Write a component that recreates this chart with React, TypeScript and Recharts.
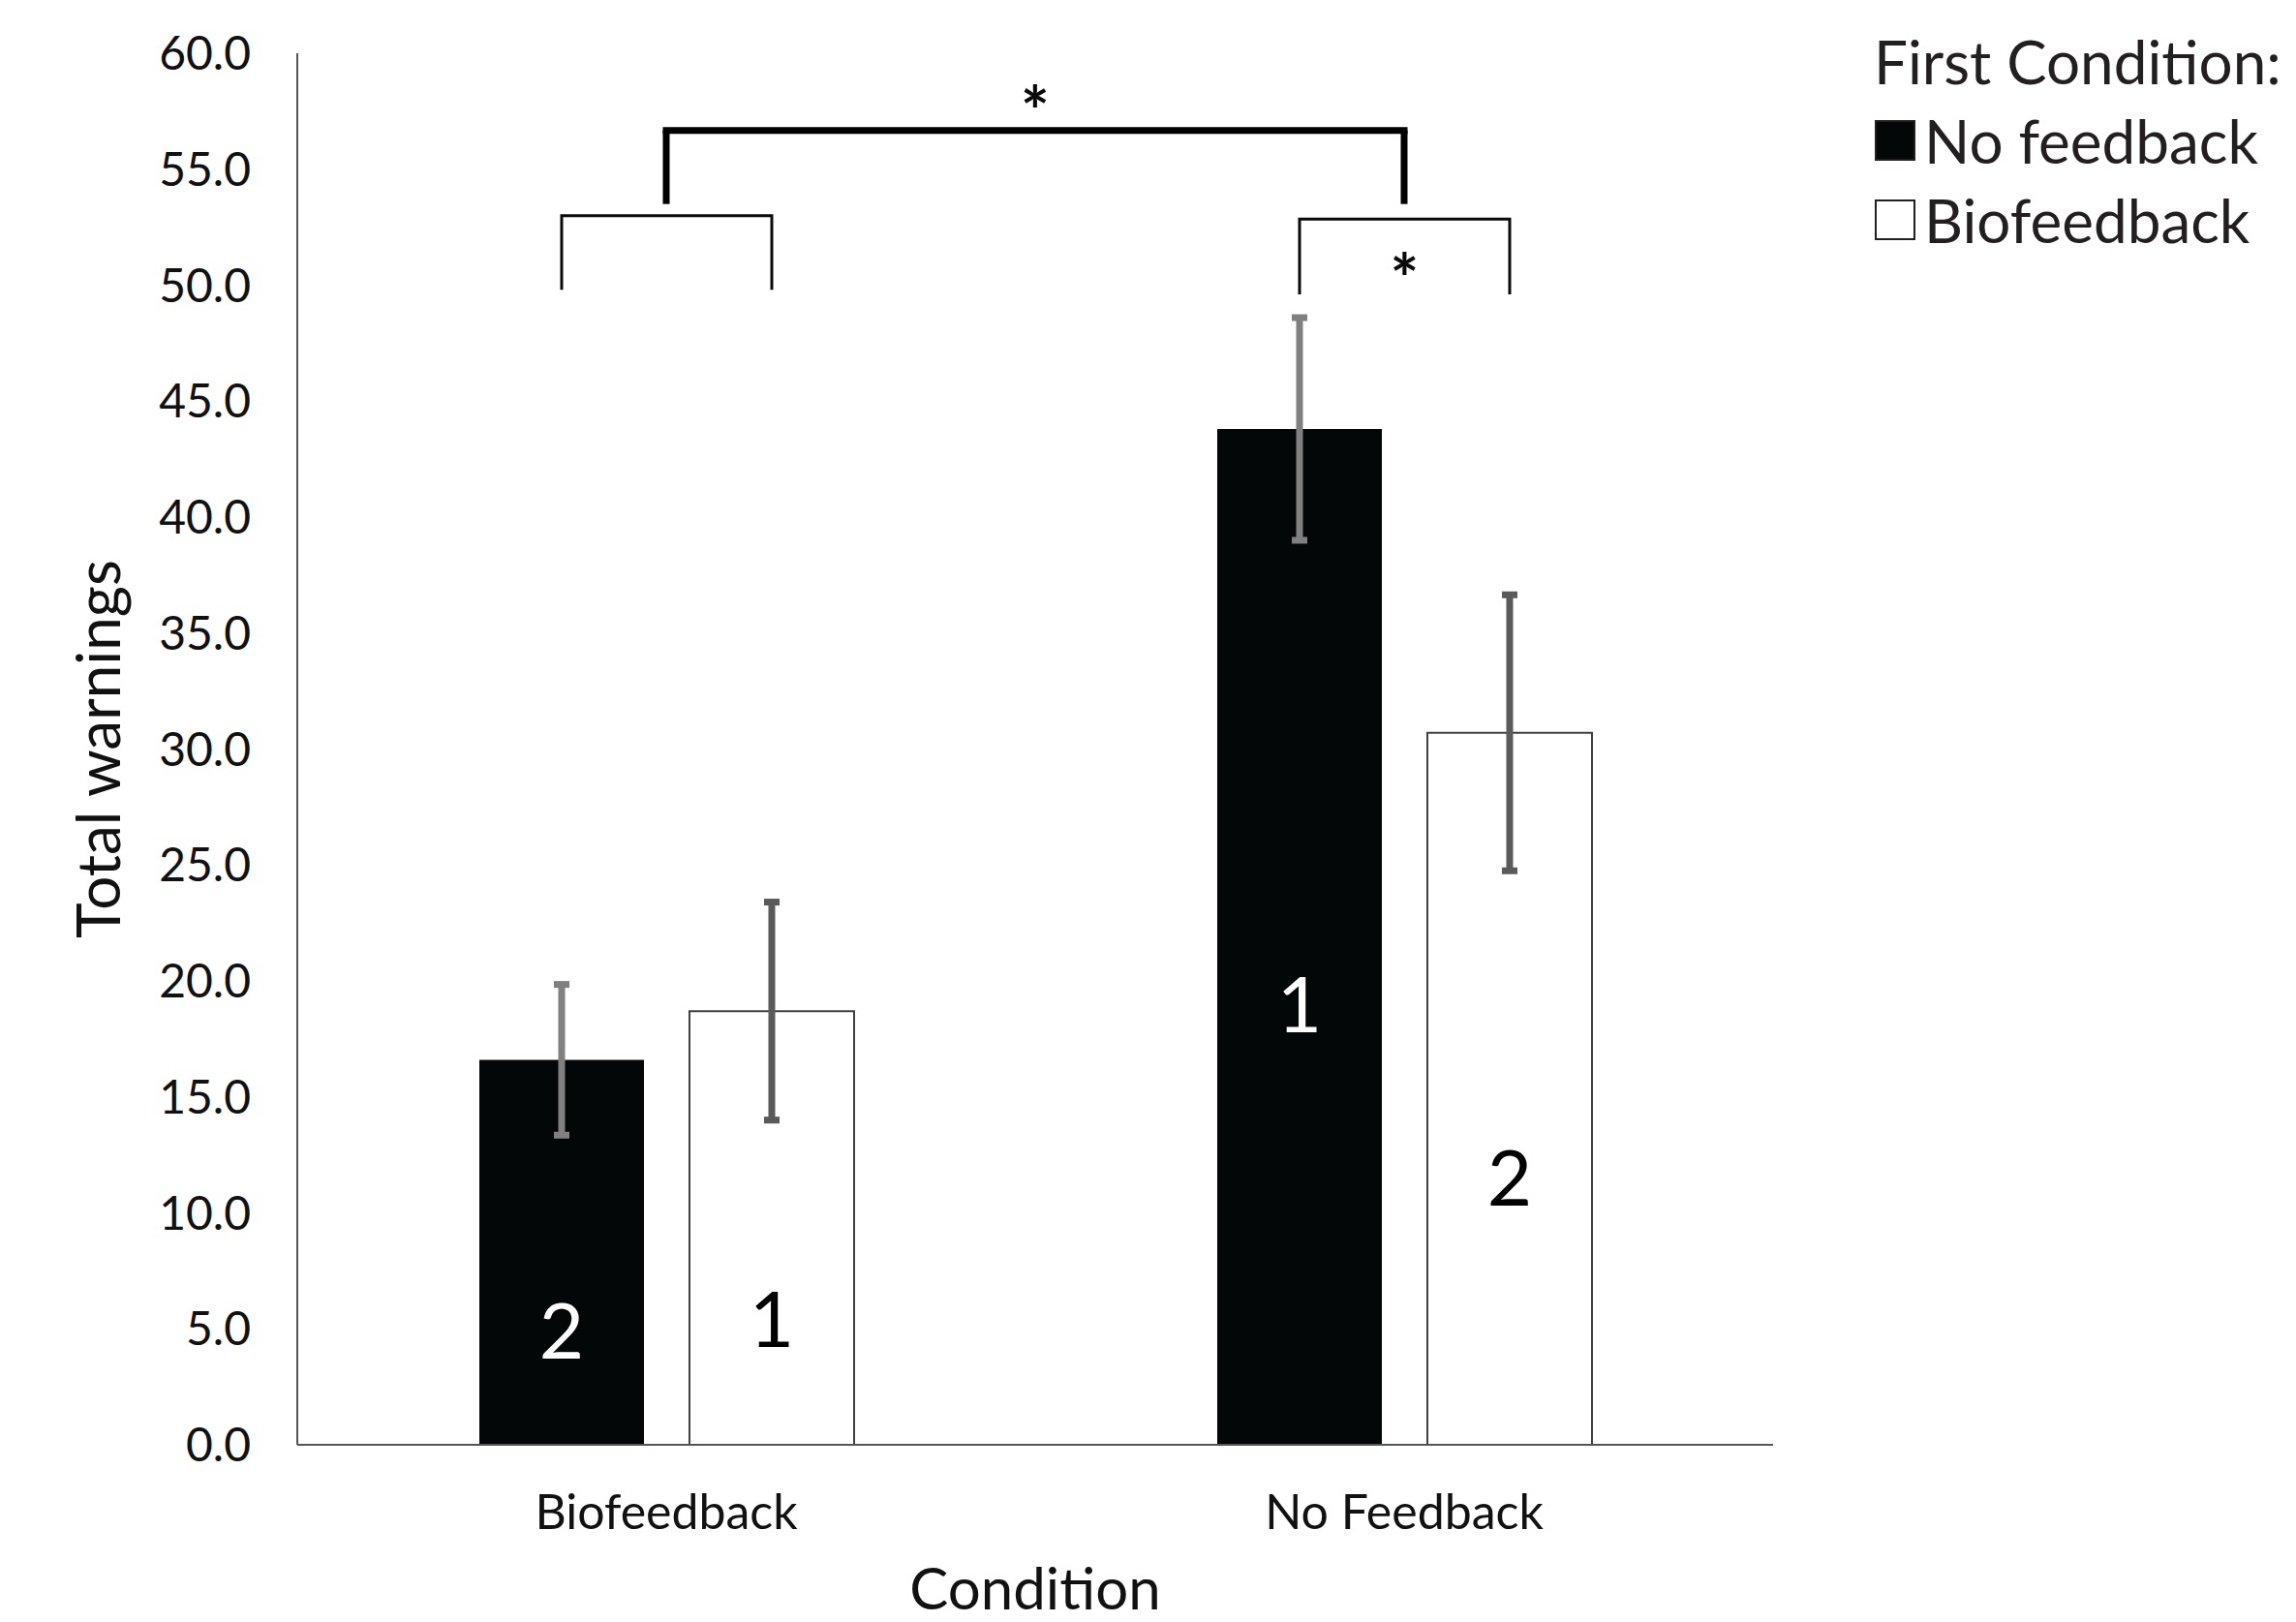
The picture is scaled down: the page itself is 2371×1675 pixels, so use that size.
import React from "react";
import {
  Bar,
  BarChart,
  ErrorBar,
  Label,
  LabelList,
  Legend,
  ReferenceLine,
  XAxis,
  YAxis,
} from "recharts";

const FONT = "Lato, 'Open Sans', sans-serif";
const INK = "#111111";

const conditions = ["Biofeedback", "No Feedback"];
const seriesNames = ["No feedback", "Biofeedback"];
const noFeedbackFirst = [16.6, 43.8];
const noFeedbackFirstErr = [3.25, 4.8];
const biofeedbackFirst = [18.7, 30.7];
const biofeedbackFirstErr = [4.7, 5.95];

// session order shown inside each bar, and the value level it sits at
const orderNoFeedbackFirst = ["2", "1"];
const orderBiofeedbackFirst = ["1", "2"];
const orderAtNoFeedbackFirst = [4.9, 19.0];
const orderAtBiofeedbackFirst = [5.4, 11.5];

// brackets between the two bars of a condition
const pairBracketBase = [49.8, 49.6];
const pairBracketTop = [53.0, 52.85];
const pairStars = ["", "*"];
const pairStarAt = [0, 50.96];

// bracket between the two conditions
const bigBracketBase = 53.5;
const bigBracketTop = 56.67;

const yTicks = [0, 5, 10, 15, 20, 25, 30, 35, 40, 45, 50, 55, 60];

const BAR_SIZE = 170;
const BAR_GAP = 47;
const STAR_SIZE = 70;

const data = conditions.map((condition, i) => ({
  condition,
  nf: noFeedbackFirst[i],
  nfErr: noFeedbackFirstErr[i],
  bio: biofeedbackFirst[i],
  bioErr: biofeedbackFirstErr[i],
}));

const box = (props: any) => {
  const vb = props.viewBox ?? props;
  return { x: vb.x, y: vb.y, width: vb.width, height: vb.height };
};

const orderLabel =
  (labels: string[], at: number[], values: number[], color: string) =>
  (props: any) => {
    const i = props.index ?? 0;
    const { x, y, width, height } = box(props);
    const base = y + height;
    const perUnit = height / values[i];
    const fs = 80;
    return (
      <text
        x={x + width / 2}
        y={base - at[i] * perUnit + 0.36 * fs}
        fill={color}
        fontSize={fs}
        fontFamily={FONT}
        textAnchor="middle"
      >
        {labels[i]}
      </text>
    );
  };

const pairBracket = (props: any) => {
  const i = props.index ?? 0;
  const { x, y, width, height } = box(props);
  const base = y + height;
  const perUnit = height / noFeedbackFirst[i];
  const x1 = x + width / 2;
  const x2 = x1 + width + BAR_GAP;
  const yb = base - pairBracketBase[i] * perUnit;
  const yt = base - pairBracketTop[i] * perUnit;
  return (
    <g>
      <path
        d={`M${x1},${yb} V${yt} H${x2} V${yb}`}
        stroke="#0a0a0a"
        strokeWidth={3}
        fill="none"
      />
      {pairStars[i] && (
        <text
          x={(x1 + x2) / 2}
          y={base - pairStarAt[i] * perUnit + 0.6 * STAR_SIZE}
          fontSize={STAR_SIZE}
          fontWeight={700}
          fontFamily={FONT}
          textAnchor="middle"
          fill="#0a0a0a"
        >
          {pairStars[i]}
        </text>
      )}
    </g>
  );
};

const renderLegend = ({ payload }: any) => {
  const items = [...(payload ?? [])].sort(
    (a: any, b: any) => seriesNames.indexOf(a.value) - seriesNames.indexOf(b.value)
  );
  return (
    <div style={{ fontFamily: FONT, fontSize: 62, lineHeight: "82px", color: "#231f20" }}>
      <div style={{ paddingLeft: 5, whiteSpace: "nowrap" }}>First Condition:</div>
      {items.map((entry: any) => (
        <div key={entry.value} style={{ display: "flex", alignItems: "center", whiteSpace: "nowrap" }}>
          <span
            style={{
              display: "inline-block",
              width: 42,
              height: 42,
              boxSizing: "border-box",
              marginLeft: 6,
              marginRight: 9,
              background: entry.color,
              border: "2px solid #231f20",
            }}
          />
          <span>{entry.value}</span>
        </div>
      ))}
    </div>
  );
};

const yTitle = (props: any) => {
  const vb = props.viewBox;
  return (
    <text
      x={vb.x + 124}
      y={vb.y + vb.height / 2}
      transform={`rotate(-90 ${vb.x + 124} ${vb.y + vb.height / 2})`}
      textAnchor="middle"
      fontSize={62}
      fontFamily={FONT}
      fill={INK}
    >
      Total warnings
    </text>
  );
};

const xTitle = (props: any) => {
  const vb = props.viewBox;
  return (
    <text
      x={vb.x + vb.width / 2}
      y={vb.y + 170}
      textAnchor="middle"
      fontSize={60}
      fontFamily={FONT}
      fill={INK}
    >
      Condition
    </text>
  );
};

export default function App() {
  return (
    <div style={{ position: "absolute", left: 0, top: 0, width: 2371, height: 1675, background: "#ffffff" }}>
      <BarChart
        width={2371}
        height={1675}
        data={data}
        margin={{ top: 55, right: 540, bottom: 0, left: 0 }}
        barSize={BAR_SIZE}
        barGap={BAR_GAP}
      >
        <XAxis
          dataKey="condition"
          height={183}
          tickLine={false}
          tickSize={0}
          tickMargin={51}
          axisLine={{ stroke: "#555555", strokeWidth: 2 }}
          tick={{ fill: INK, fontSize: 50, fontFamily: FONT }}
        >
          <Label content={xTitle} />
        </XAxis>
        <YAxis
          width={307}
          domain={[0, 60]}
          ticks={yTicks}
          interval={0}
          tickLine={false}
          tickSize={0}
          tickMargin={48}
          tickFormatter={(v: number) => v.toFixed(1)}
          axisLine={{ stroke: "#555555", strokeWidth: 2 }}
          tick={{ fill: INK, fontSize: 48, fontFamily: FONT }}
        >
          <Label content={yTitle} />
        </YAxis>
        <Legend
          layout="vertical"
          align="center"
          verticalAlign="middle"
          wrapperStyle={{ top: 22, left: 1930, width: 441, bottom: "auto", right: "auto" }}
          content={renderLegend}
        />
        <Bar dataKey="nf" name={seriesNames[0]} fill="#040707" isAnimationActive={false}>
          <ErrorBar dataKey="nfErr" width={8} strokeWidth={7} stroke="#808080" />
          <LabelList
            dataKey="nf"
            content={orderLabel(orderNoFeedbackFirst, orderAtNoFeedbackFirst, noFeedbackFirst, "#ffffff")}
          />
          <LabelList dataKey="nf" content={pairBracket} />
        </Bar>
        <Bar
          dataKey="bio"
          name={seriesNames[1]}
          fill="#ffffff"
          stroke="#404040"
          strokeWidth={2}
          isAnimationActive={false}
        >
          <ErrorBar dataKey="bioErr" width={8} strokeWidth={7} stroke="#5a5a5a" />
          <LabelList
            dataKey="bio"
            content={orderLabel(orderBiofeedbackFirst, orderAtBiofeedbackFirst, biofeedbackFirst, "#000000")}
          />
        </Bar>
        <ReferenceLine
          segment={[
            { x: conditions[0], y: bigBracketTop },
            { x: conditions[1], y: bigBracketTop },
          ]}
          stroke="#000000"
          strokeWidth={7}
          strokeLinecap="square"
        >
          <Label
            value="*"
            position="top"
            offset={-6}
            fontSize={STAR_SIZE}
            fontWeight={700}
            fontFamily={FONT}
            fill="#0a0a0a"
          />
        </ReferenceLine>
        <ReferenceLine
          segment={[
            { x: conditions[0], y: bigBracketBase },
            { x: conditions[0], y: bigBracketTop },
          ]}
          stroke="#000000"
          strokeWidth={7}
        />
        <ReferenceLine
          segment={[
            { x: conditions[1], y: bigBracketBase },
            { x: conditions[1], y: bigBracketTop },
          ]}
          stroke="#000000"
          strokeWidth={7}
        />
      </BarChart>
    </div>
  );
}
